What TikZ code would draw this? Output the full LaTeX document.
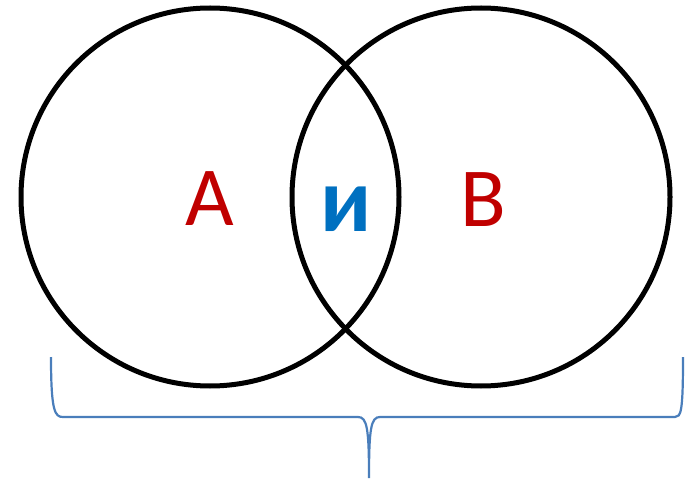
\documentclass[tikz,border=0pt]{standalone}
\usepackage{fontspec}
\setmainfont{Carlito}
\definecolor{lblred}{RGB}{192,0,0}
\definecolor{lblblue}{RGB}{0,112,192}
\definecolor{bracecol}{RGB}{74,126,187}
\begin{document}
\begin{tikzpicture}[x=1pt,y=-1pt,
  setcircle/.style={circle,draw=black,line width=5pt,minimum size=378pt,inner sep=0pt},
  setlabel/.style={text=lblred,font=\fontsize{84}{84}\selectfont,inner sep=0pt},
  andlabel/.style={text=lblblue,font=\bfseries\fontsize{92}{92}\selectfont,inner sep=0pt},
  bracestyle/.style={draw=bracecol,line width=2.2pt}]
\useasboundingbox (0,0) rectangle (685,481);
\node[setcircle] (ca) at (210,197) {};
\node[setcircle] (cb) at (481,197) {};
\node[setlabel] (la) at (209.5,199) {A};
\node[setlabel] (lb) at (483,200) {B};
\node[andlabel] (li) at (346.5,209) {и};
\coordinate (bl) at (51,357);
\coordinate (br) at (683,357);
\coordinate (bt) at (369,478);
\draw[bracestyle] (bl) .. controls (51,412) and (55,417) .. (63,417) -- (358,417)
  .. controls (367,417) and (369,428) .. (bt)
  .. controls (369,428) and (371,417) .. (380,417) -- (675,417)
  .. controls (681,417) and (683,412) .. (br);
\end{tikzpicture}
\end{document}
